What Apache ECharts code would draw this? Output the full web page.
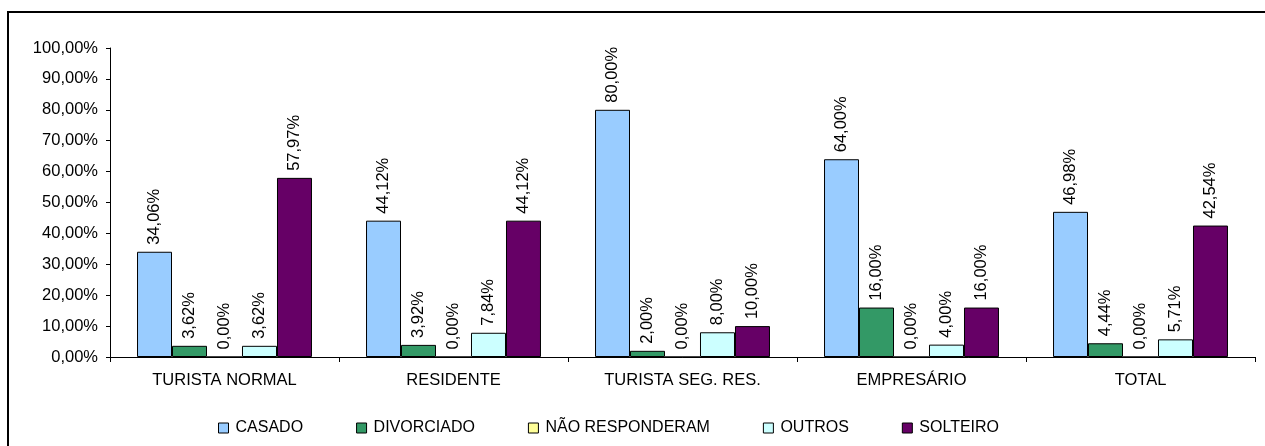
<!DOCTYPE html>
<html>
<head>
<meta charset="utf-8">
<script src="https://cdn.jsdelivr.net/npm/echarts@6/dist/echarts.min.js"></script>
<style>
  html, body { margin: 0; padding: 0; background: #fff; }
  #frame { position: absolute; left: 7px; top: 11px; width: 1270px; height: 450px;
           border-left: 2px solid #000; border-top: 2px solid #000; box-sizing: border-box; }
  #chart { position: absolute; left: 0; top: 0; width: 1265px; height: 446px; }
</style>
</head>
<body>
<div id="frame"></div>
<div id="chart"></div>
<script>
const categories = ['TURISTA NORMAL', 'RESIDENTE', 'TURISTA SEG. RES.', 'EMPRESÁRIO', 'TOTAL'];
const casado      = [34.06, 44.12, 80.00, 64.00, 46.98];
const divorciado  = [3.62, 3.92, 2.00, 16.00, 4.44];
const naoResp     = [0.00, 0.00, 0.00, 0.00, 0.00];
const outros      = [3.62, 7.84, 8.00, 4.00, 5.71];
const solteiro    = [57.97, 44.12, 10.00, 16.00, 42.54];
const yTicks = [0, 10, 20, 30, 40, 50, 60, 70, 80, 90, 100];

const seriesDefs = [
  { name: 'CASADO', data: casado, color: '#99CCFF' },
  { name: 'DIVORCIADO', data: divorciado, color: '#339966' },
  { name: 'NÃO RESPONDERAM', data: naoResp, color: '#FFFF99' },
  { name: 'OUTROS', data: outros, color: '#CCFFFF' },
  { name: 'SOLTEIRO', data: solteiro, color: '#660066' }
];

const pct = v => v.toFixed(2).replace('.', ',') + '%';
const font = 'Liberation Sans, Arial, sans-serif';

const chart = echarts.init(document.getElementById('chart'), null, { renderer: 'canvas' });
chart.setOption({
  animation: false,
  backgroundColor: 'transparent',
  textStyle: { fontFamily: font },
  grid: { left: 110, right: 10, top: 48, bottom: 89, containLabel: false },
  legend: {
    bottom: 5,
    left: 213,
    itemWidth: 10,
    itemHeight: 10,
    itemGap: 53,
    icon: 'rect',
    textStyle: { fontFamily: font, fontSize: 16, color: '#000', padding: [0, 0, 0, 2] },
    itemStyle: { borderColor: '#000', borderWidth: 1 },
    data: seriesDefs.map(s => s.name)
  },
  xAxis: {
    type: 'category',
    data: categories,
    axisLine: { lineStyle: { color: '#000', width: 1 } },
    axisTick: { show: true, length: 5, lineStyle: { color: '#000' }, alignWithLabel: false },
    axisLabel: { color: '#000', fontSize: 16.5, margin: 15, fontFamily: font }
  },
  yAxis: {
    type: 'value',
    min: yTicks[0],
    max: yTicks[yTicks.length - 1],
    interval: 10,
    axisLine: { show: true, lineStyle: { color: '#000', width: 1 } },
    axisTick: { show: true, length: 4, lineStyle: { color: '#000' } },
    splitLine: { show: false },
    axisLabel: { color: '#000', fontSize: 16.5, margin: 12, fontFamily: font, formatter: pct }
  },
  series: seriesDefs.map(s => ({
    name: s.name,
    type: 'bar',
    data: s.data,
    barGap: '0%',
    barCategoryGap: '23.6%',
    itemStyle: { color: s.color, borderColor: '#000', borderWidth: 1 },
    label: {
      show: true,
      position: 'top',
      rotate: 90,
      align: 'left',
      verticalAlign: 'middle',
      distance: 7,
      fontSize: 16.5,
      fontFamily: font,
      color: '#000',
      formatter: p => pct(p.value)
    }
  }))
});
</script>
</body>
</html>
